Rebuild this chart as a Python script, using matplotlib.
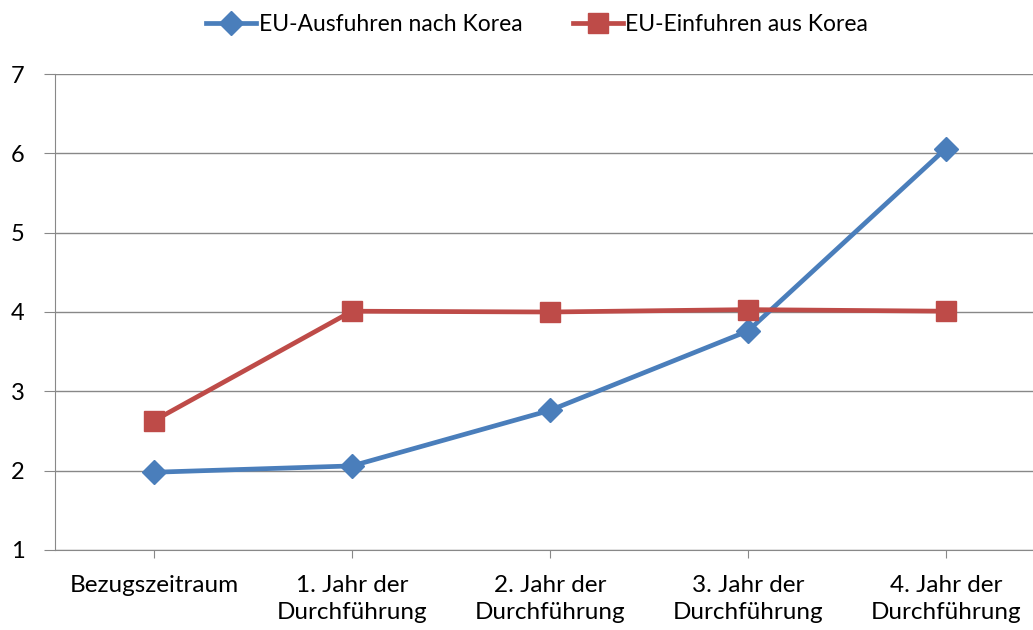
import matplotlib.pyplot as plt

# Daten
kategorien = ['Bezugszeitraum', '1. Jahr der\nDurchführung', '2. Jahr der\nDurchführung',
              '3. Jahr der\nDurchführung', '4. Jahr der\nDurchführung']
ausfuhren = [1.98, 2.06, 2.76, 3.76, 6.06]
einfuhren = [2.63, 4.01, 4.00, 4.03, 4.01]

plt.rcParams['font.family'] = ['Lato', 'DejaVu Sans']

fig = plt.figure(figsize=(10.33, 6.3), dpi=100)
ax = fig.add_axes([55 / 1033, 1 - 550 / 630, 1 - 55 / 1033, (550 - 74) / 630])

x = list(range(len(kategorien)))
ax.plot(x, ausfuhren, color='#4A7EBB', lw=3.4, marker='D', markersize=12,
        label='EU-Ausfuhren nach Korea', zorder=3)
ax.plot(x, einfuhren, color='#BE4B48', lw=3.4, marker='s', markersize=14,
        label='EU-Einfuhren aus Korea', zorder=3)

ax.set_ylim(1, 7)
ax.set_xlim(-0.5, 4.44)
ax.set_yticks(range(1, 8))
ax.set_xticks(x)
ax.set_xticklabels(kategorien, linespacing=1.35)
ax.grid(axis='y', color='#888888', lw=1)
ax.set_axisbelow(True)

for s in ['top', 'right']:
    ax.spines[s].set_visible(False)
for s in ['left', 'bottom']:
    ax.spines[s].set_color('#888888')
ax.tick_params(axis='y', length=8, color='#888888', labelsize=17, pad=14)
ax.tick_params(axis='x', length=6, color='#888888', labelsize=17.5, pad=12)

fig.legend(loc='upper center', bbox_to_anchor=(0.52, 1.01), ncol=2, frameon=False,
           fontsize=16.5, handlelength=2.2, columnspacing=2.2, handletextpad=0.1)

fig.savefig('out.png', dpi=100)
